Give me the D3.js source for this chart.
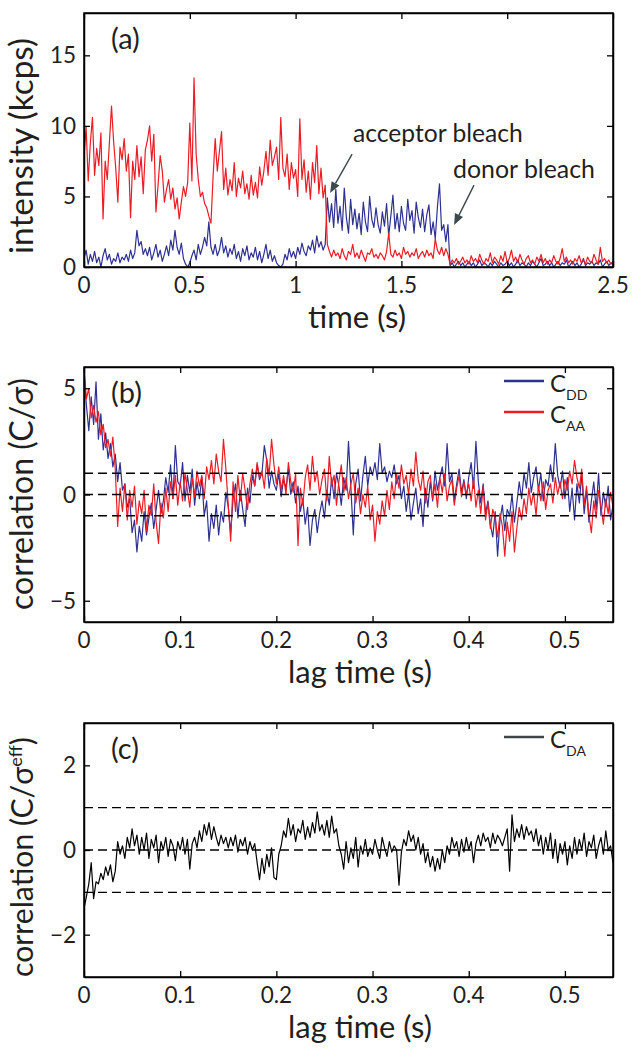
<!DOCTYPE html>
<html><head><meta charset="utf-8">
<script src="https://cdn.jsdelivr.net/npm/d3@7"></script>
<style>
body{margin:0;background:#fff}
svg text{font-family:Lato,"Open Sans",sans-serif;fill:#231f20}
</style>
</head><body>
<svg id="chart" width="636" height="1050"></svg>
<script>
// ---------------- DATA ----------------
// Panel (a): intensity traces (kcps), sampled every 0.01 s from 0 to 2.5 s
const stepA = 0.01;
const acceptorA = [
7.8,9.9,6.1,8.8,10.6,6.5,8.4,7.2,9.5,3.4,
7.5,6.2,8.8,11.4,8.9,7.0,4.6,8.5,7.6,9.1,
6.8,8.0,3.5,7.5,6.2,8.6,6.4,7.8,5.2,8.3,
9.0,10.0,7.5,9.4,3.9,5.8,7.9,6.8,4.6,5.5,
6.2,4.8,5.6,4.1,4.9,3.4,4.6,5.7,5.0,6.0,
10.2,6.1,13.4,8.0,6.2,5.0,5.3,4.5,4.2,3.6,
3.1,6.4,9.1,6.8,8.2,9.6,5.5,7.0,5.1,6.2,
5.4,7.4,5.0,6.3,5.6,6.8,5.2,5.9,4.8,6.5,
5.1,6.0,4.9,7.1,5.8,6.8,8.2,6.5,9.0,7.2,
7.8,8.5,6.2,10.6,7.0,6.4,8.0,5.5,7.4,6.3,
6.9,5.0,10.5,6.2,7.6,5.3,6.8,4.8,7.4,6.0,
8.6,5.2,7.0,4.9,5.8,1.6,1.1,0.7,1.2,0.8,
1.0,0.6,1.3,0.8,0.5,1.1,0.9,1.6,0.7,1.0,
0.6,1.2,0.8,0.4,1.0,0.9,1.3,0.7,0.9,0.6,
1.0,0.8,0.5,1.1,2.4,0.9,0.7,1.2,0.8,1.0,
0.6,1.4,0.9,1.1,0.7,1.0,0.8,1.3,0.6,0.9,
1.1,0.7,1.2,0.8,1.0,0.6,2.0,1.2,0.9,1.4,
0.8,1.3,0.9,0.2,0.5,0.3,0.6,0.2,0.4,0.7,
0.3,0.5,0.2,0.8,0.4,0.6,0.3,0.9,0.5,0.2,
0.6,0.4,1.0,0.3,0.7,0.5,0.2,0.8,0.4,1.1,
0.3,0.6,1.2,0.4,0.7,0.3,0.9,0.5,0.2,0.6,
0.8,0.3,0.5,0.2,0.7,0.4,0.9,0.3,0.6,0.2,
0.5,0.3,0.8,0.4,0.2,0.6,1.3,0.4,0.7,0.3,
0.5,0.2,0.6,0.4,0.8,0.3,0.5,0.2,0.7,0.4,
0.3,0.9,0.5,0.2,1.4,0.4,0.6,0.3,0.5,0.2,
0.4];
const donorA = [
0.6,1.2,0.2,0.9,0.4,1.1,0.3,0.7,0.0,0.8,
1.3,0.5,0.9,0.2,0.6,0.4,1.0,0.3,0.7,0.5,
0.9,0.4,1.2,0.6,1.0,2.6,1.5,1.8,0.9,1.3,
0.8,1.4,0.5,1.0,1.6,0.7,1.2,0.4,0.9,1.5,
0.8,1.9,1.2,2.6,1.4,0.9,1.7,0.6,0.2,0.0,
0.3,0.8,1.2,0.5,1.6,0.9,1.4,2.1,1.5,3.2,
1.4,0.9,1.6,0.8,1.2,2.1,1.0,1.5,0.7,1.3,
0.9,1.6,0.6,1.1,0.4,1.3,0.8,1.5,0.5,1.0,
0.7,1.4,0.5,1.1,0.3,0.9,1.6,0.6,1.2,0.4,
0.8,0.3,0.1,0.0,0.2,0.9,0.5,1.3,0.7,1.1,
0.6,1.4,0.9,1.7,1.1,0.8,1.5,1.2,1.9,1.0,
2.2,1.4,1.8,1.2,1.6,4.9,3.2,4.5,2.8,5.5,
3.1,4.3,2.6,5.6,3.5,2.4,4.8,3.0,4.1,2.7,
3.8,2.3,4.6,3.2,2.5,5.0,3.4,2.8,4.2,3.0,
2.4,3.9,2.9,4.5,2.2,3.6,5.1,2.7,3.8,2.5,
4.3,3.1,2.6,4.8,3.3,4.0,2.4,4.6,3.5,2.8,
4.1,2.5,3.7,4.4,2.3,3.2,2.0,4.2,5.9,2.6,
3.0,1.8,3.0,0.1,0.3,0.0,0.2,0.4,0.1,0.3,
0.0,0.2,0.4,0.1,0.3,0.0,0.2,0.5,0.1,0.3,
0.2,0.0,0.3,0.1,0.4,0.2,0.0,0.3,0.1,0.2,
0.4,0.1,0.3,0.0,0.2,0.5,0.1,0.3,0.2,0.0,
0.3,0.1,0.4,0.2,0.0,0.3,0.6,0.1,0.2,0.4,
0.1,0.3,0.0,0.2,0.4,0.1,0.3,0.2,0.5,0.0,
0.2,0.4,0.1,0.3,0.0,0.2,0.6,0.1,0.3,0.2,
0.4,0.1,0.3,0.2,0.5,0.0,0.2,0.4,0.1,0.3,
0.2];

// Panels (b),(c): correlations, sampled every 0.0025 s lag from 0 to 0.55 s
const stepLag = 0.0025;
const cDD = [
5.8,4.2,3.0,4.6,3.3,5.3,2.6,3.8,2.1,2.9,1.7,2.4,1.3,1.9,0.6,1.5,0.2,0.5,-0.6,-0.2,
-1.8,-1.2,-2.7,-1.5,-2.2,-0.8,-1.9,-1.1,-0.4,-1.6,-0.7,0.2,-0.9,-0.3,0.8,0.1,1.4,-0.2,2.3,0.6,
0.4,1.5,-0.3,0.9,0.1,1.2,-0.5,0.6,-0.2,0.8,-1.0,-0.3,-2.2,-0.9,-1.6,-0.5,-1.9,-0.8,-1.3,0.1,
-0.6,-1.8,-0.2,0.5,-1.1,0.2,-0.7,-1.5,0.3,-0.4,0.9,0.4,1.4,0.7,1.0,2.3,1.6,0.3,1.1,0.5,
0.2,1.0,-0.1,0.7,0.3,1.2,0.0,0.6,-0.4,0.4,-0.8,-0.2,-1.4,-0.6,-2.4,-1.2,-0.7,-1.8,-0.9,-0.3,
-1.1,0.2,-0.5,0.8,-0.2,1.0,0.4,-0.5,0.8,0.2,2.5,0.3,-1.9,0.5,1.2,-0.3,0.9,1.8,0.4,1.3,
0.9,1.5,0.7,2.4,1.0,1.3,0.6,1.1,0.8,1.4,0.5,0.9,-0.2,0.4,-0.8,0.1,-1.2,-0.4,0.3,-0.9,
-0.2,-1.5,0.3,-0.6,0.6,-0.3,1.1,0.2,0.8,1.3,0.4,2.4,0.6,1.0,-0.3,0.5,1.2,0.1,0.7,-0.2,
0.8,1.5,0.3,2.5,0.6,-0.4,0.5,-0.9,-0.3,-1.4,-2.0,-0.8,-2.9,-1.2,-0.5,-1.7,-0.7,-1.0,0.0,-1.3,
-0.4,0.6,-0.2,1.0,0.3,1.5,0.1,0.8,1.3,0.2,1.0,-0.3,0.7,0.4,1.4,0.6,2.4,0.9,0.3,1.1,
-0.2,0.8,-0.8,0.3,-1.2,0.5,-0.4,1.0,-0.9,0.2,-1.3,-0.3,0.6,-0.7,1.0,-1.0,0.1,-0.6,0.4,-1.2,-0.5];
const cAA = [
6.0,4.5,5.0,3.6,4.2,3.4,3.9,2.8,3.3,2.2,2.6,1.8,2.7,1.2,-1.5,0.3,-0.8,0.5,-1.2,0.2,
-0.6,0.4,-1.4,-0.3,-0.9,0.2,-1.7,-0.5,-1.0,0.5,-1.3,-2.3,-0.4,-1.1,0.3,-0.8,0.6,-0.2,0.9,-0.5,
0.6,-0.3,1.0,0.2,-0.6,0.8,-0.1,1.1,0.4,0.9,-0.2,1.3,0.7,1.6,0.5,1.9,1.1,0.6,2.6,1.2,
-0.5,-2.2,0.6,-0.8,0.9,-0.3,1.0,0.2,-0.7,0.5,1.2,0.4,1.5,0.8,1.1,0.3,1.7,0.9,2.6,1.4,
0.5,1.3,0.2,0.9,0.0,1.5,0.6,0.1,1.0,-2.4,0.3,-0.5,0.8,1.4,0.2,1.8,0.6,1.1,0.0,0.7,
1.2,-0.3,1.8,0.4,0.9,-0.5,0.6,1.4,0.1,0.8,-0.2,0.5,1.0,-0.4,0.3,-0.9,0.0,-0.6,0.4,-1.2,
-0.5,-2.2,-0.8,-1.4,-0.3,-1.0,0.2,-0.7,0.6,-0.2,1.0,0.3,1.4,0.5,0.9,0.0,1.2,0.4,2.0,0.7,
0.2,1.1,-0.4,0.6,0.9,-0.2,0.5,-0.6,0.8,0.1,1.0,-0.3,0.4,0.7,-0.5,0.3,0.9,-0.1,0.6,0.0,
0.5,-0.3,0.8,-0.6,0.2,-0.9,0.4,-1.2,-0.4,-1.6,-0.7,-1.1,-2.0,-0.9,-1.5,-2.9,-1.3,-2.2,-0.8,-2.7,
-1.6,-0.6,-1.2,-0.2,-0.9,0.3,-0.5,0.1,-1.0,0.4,-0.3,0.6,-0.7,0.2,0.5,-0.4,0.8,0.0,0.6,-0.2,
0.7,0.2,1.1,0.5,1.6,0.8,0.3,1.2,-0.5,0.4,-1.0,-1.8,-0.3,-1.1,0.2,-0.6,-1.4,-0.2,-0.9,0.1,-0.6];
const cDA = [
-1.38,-1.1,-0.8,-0.3,-1.15,-0.75,-0.8,-0.55,-0.7,-0.4,-0.6,-0.35,-0.75,-0.5,0.2,-0.1,0.1,-0.2,0.3,0.05,
0.5,0.1,0.35,-0.1,0.3,0.0,0.4,-0.2,0.25,0.05,0.35,-0.3,0.2,0.0,0.3,-0.15,0.25,0.1,-0.25,0.2,
0.0,0.3,-0.1,0.25,-0.45,0.15,0.3,0.05,0.45,0.2,0.6,0.35,0.65,0.25,0.55,0.3,0.1,0.35,0.15,0.3,
0.05,0.3,0.1,0.35,-0.05,0.25,0.1,0.3,-0.1,0.2,0.0,0.15,-0.3,-0.7,-0.2,-0.55,-0.1,-0.4,0.05,-0.65,
-0.7,-0.1,0.1,0.45,0.3,0.75,0.35,0.6,0.2,0.5,0.4,0.7,0.25,0.55,0.3,0.65,0.4,0.9,0.45,0.6,
0.35,0.7,0.3,0.8,0.4,0.5,0.1,-0.1,-0.45,0.2,-0.3,0.05,-0.2,0.3,-0.4,0.1,-0.1,0.25,-0.15,0.05,
-0.1,0.25,0.0,-0.2,0.3,0.05,-0.15,0.2,-0.05,0.1,0.0,-0.83,-0.05,0.25,0.1,0.45,0.2,0.35,0.0,0.3,
-0.1,0.15,-0.3,-0.05,-0.4,-0.15,-0.5,-0.2,-0.45,0.0,-0.3,0.1,-0.1,0.3,0.05,0.2,-0.15,0.25,-0.05,0.3,
0.0,0.2,-0.3,0.15,0.35,0.1,0.4,0.2,0.3,0.05,0.4,0.15,0.35,0.25,0.1,0.3,0.5,-0.5,0.83,0.2,
0.5,0.3,0.6,0.25,0.55,0.35,0.45,0.2,0.5,0.1,0.35,-0.1,0.3,0.0,0.4,-0.2,0.25,-0.3,0.15,-0.1,
0.2,-0.35,0.1,-0.2,0.3,-0.1,0.25,0.0,0.4,-0.15,0.2,0.05,0.35,-0.2,0.1,0.3,-0.1,0.45,0.0,0.1,-0.3];

// Tick values
const ticksXA = [0, 0.5, 1, 1.5, 2, 2.5];
const ticksYA = [0, 5, 10, 15];
const ticksXLag = [0, 0.1, 0.2, 0.3, 0.4, 0.5];
const ticksYB = [-5, 0, 5];
const ticksYC = [-2, 0, 2];
const refLines = [-1, 0, 1];

// Annotations for panel (a), in data coordinates [t, intensity]
const annotations = [
  {text: "acceptor bleach", label: [1.271, 8.87], from: [1.267, 8.0], to: [1.163, 5.25], w: 170},
  {text: "donor bleach",    label: [1.744, 6.31], from: [1.843, 5.8], to: [1.749, 2.98], w: 142}
];

// ---------------- STYLE / LAYOUT ----------------
const BLUE = "#2e3192", RED = "#ed1c24", INK = "#231f20";
const X0 = 84, X1 = 613;
const svg = d3.select("#chart");

function fitText(sel, target) {
  const l = sel.node().getComputedTextLength();
  const fs = parseFloat(sel.attr("font-size"));
  sel.attr("font-size", (fs * target / l).toFixed(2));
}

function panel(o) {
  const x = d3.scaleLinear().domain(o.xDomain).range([X0, X1]);
  const y = d3.scaleLinear().domain(o.yDomain).range([o.y1, o.y0]);
  const g = svg.append("g");
  const id = "clip" + o.name;
  svg.append("clipPath").attr("id", id).append("rect")
    .attr("x", X0).attr("y", o.y0).attr("width", X1 - X0).attr("height", o.y1 - o.y0);
  const plot = g.append("g").attr("clip-path", `url(#${id})`);

  o.series.forEach(s => {
    const pts = s.values.map((v, i) => [i * s.step, v]);
    plot.append("path").datum(pts)
      .attr("fill", "none").attr("stroke", s.color).attr("stroke-width", 1.2)
      .attr("stroke-linejoin", "round")
      .attr("d", d3.line().x(d => x(d[0])).y(d => y(d[1])));
  });

  if (o.refLines) {
    plot.selectAll(".ref").data(o.refLines).join("line")
      .attr("x1", X0).attr("x2", X1)
      .attr("y1", d => y(d)).attr("y2", d => y(d))
      .attr("stroke", "#000").attr("stroke-width", 1.3).attr("stroke-dasharray", "9,5");
  }

  // axes: MATLAB box with inward ticks on all four sides
  const tl = 6;
  const bottom = d3.axisBottom(x).tickValues(o.xTicks).tickSizeInner(-tl).tickSizeOuter(0).tickFormat("");
  const top = d3.axisTop(x).tickValues(o.xTicks).tickSizeInner(-tl).tickSizeOuter(0).tickFormat("");
  const left = d3.axisLeft(y).tickValues(o.yTicks).tickSizeInner(-tl).tickSizeOuter(0).tickFormat("");
  const right = d3.axisRight(y).tickValues(o.yTicks).tickSizeInner(-tl).tickSizeOuter(0).tickFormat("");
  [[bottom, `translate(0,${o.y1})`], [top, `translate(0,${o.y0})`],
   [left, `translate(${X0},0)`], [right, `translate(${X1},0)`]].forEach(([ax, tr]) => {
    const a = g.append("g").attr("transform", tr).call(ax);
    a.select(".domain").attr("stroke", "#000").attr("stroke-width", 1.5);
    a.selectAll(".tick line").attr("stroke", "#000").attr("stroke-width", 1.3);
  });
  g.append("rect").attr("x", X0).attr("y", o.y0).attr("width", X1 - X0).attr("height", o.y1 - o.y0)
    .attr("fill", "none").attr("stroke", "#000").attr("stroke-width", 1.5);

  // tick labels
  const fmt = v => (v < 0 ? "\u2212" : "") + d3.format("")(Math.abs(v));
  g.selectAll(".xl").data(o.xTicks).join("text")
    .attr("x", d => x(d)).attr("y", o.y1 + 26).attr("text-anchor", "middle")
    .attr("font-size", 22.5).text(fmt);
  g.selectAll(".yl").data(o.yTicks).join("text")
    .attr("x", 76).attr("y", d => y(d) + 8).attr("text-anchor", "end")
    .attr("font-size", 22.5).text(fmt);

  // axis titles
  const xt = g.append("text").attr("x", o.xTitleX).attr("y", o.y1 + 61)
    .attr("text-anchor", "middle").attr("font-size", 30).text(o.xTitle);
  fitText(xt, o.xTitleW);
  const yt = g.append("text").attr("transform", `translate(33,${o.yTitleC}) rotate(-90)`)
    .attr("text-anchor", "middle").attr("font-size", 30);
  o.yTitle(yt);
  fitText(yt, o.yTitleW);

  // panel letter
  g.append("text").attr("x", 111).attr("y", o.y0 + 36).attr("font-size", 29).text(o.letter);

  // legend
  if (o.legend) {
    o.legend.forEach((L, i) => {
      const ly = o.y0 + 14 + i * 31;
      g.append("line").attr("x1", 504).attr("x2", 544).attr("y1", ly).attr("y2", ly)
        .attr("stroke", L.color).attr("stroke-width", 2.6);
      const t = g.append("text").attr("x", 550).attr("y", ly + 11).attr("font-size", 24).text("C");
      t.append("tspan").attr("dy", 8).attr("font-size", 14).text(L.sub);
    });
  }
  return {x, y, g};
}

// Panel (a)
const pa = panel({
  name: "a", xDomain: [0, 2.5], yDomain: [0, 18], y0: 13, y1: 267,
  xTicks: ticksXA, yTicks: ticksYA, letter: "(a)",
  series: [{values: donorA, step: stepA, color: BLUE}, {values: acceptorA, step: stepA, color: RED}],
  xTitle: "time (s)", xTitleX: 357, xTitleW: 98,
  yTitle: t => t.text("intensity (kcps)"), yTitleC: 146, yTitleW: 216
});
annotations.forEach(a => {
  const [fx, fy] = [pa.x(a.from[0]), pa.y(a.from[1])];
  const [tx, ty] = [pa.x(a.to[0]), pa.y(a.to[1])];
  const ang = Math.atan2(ty - fy, tx - fx);
  const hl = 11, hw = 4.5;
  const bx = tx - hl * Math.cos(ang), by = ty - hl * Math.sin(ang);
  pa.g.append("line").attr("x1", fx).attr("y1", fy).attr("x2", bx).attr("y2", by)
    .attr("stroke", "#3b4a4b").attr("stroke-width", 1.4);
  pa.g.append("path").attr("fill", "#3b4a4b")
    .attr("d", `M${tx},${ty} L${bx + hw * Math.sin(ang)},${by - hw * Math.cos(ang)} L${bx - hw * Math.sin(ang)},${by + hw * Math.cos(ang)} Z`);
  const t = pa.g.append("text").attr("x", pa.x(a.label[0])).attr("y", pa.y(a.label[1]))
    .attr("font-size", 24).attr("fill", INK).text(a.text);
  fitText(t, a.w);
});

// Panel (b)
panel({
  name: "b", xDomain: [0, 0.55], yDomain: [-6, 6], y0: 367, y1: 622,
  xTicks: ticksXLag, yTicks: ticksYB, letter: "(b)", refLines,
  series: [{values: cDD, step: stepLag, color: BLUE}, {values: cAA, step: stepLag, color: RED}],
  legend: [{color: BLUE, sub: "DD"}, {color: RED, sub: "AA"}],
  xTitle: "lag time (s)", xTitleX: 360, xTitleW: 144,
  yTitle: t => t.text("correlation (C/\u03c3)"), yTitleC: 494, yTitleW: 232
});

// Panel (c)
panel({
  name: "c", xDomain: [0, 0.55], yDomain: [-3, 3], y0: 723, y1: 977,
  xTicks: ticksXLag, yTicks: ticksYC, letter: "(c)", refLines,
  series: [{values: cDA, step: stepLag, color: "#000"}],
  legend: [{color: "#3d4647", sub: "DA"}],
  xTitle: "lag time (s)", xTitleX: 360, xTitleW: 144,
  yTitle: t => {
    t.append("tspan").text("correlation (C/\u03c3");
    t.append("tspan").attr("dy", -11).attr("font-size", "60%").text("eff");
    t.append("tspan").attr("dy", 11).text(")");
  },
  yTitleC: 857, yTitleW: 240
});
</script>
</body></html>
